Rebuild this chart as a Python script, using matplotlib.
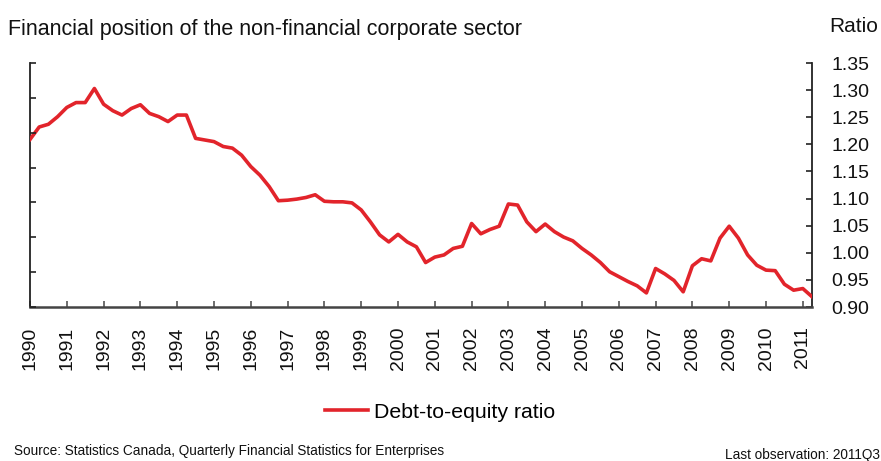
import matplotlib
matplotlib.use("Agg")
import matplotlib.pyplot as plt
import numpy as np

plt.rcParams['font.family'] = ['Liberation Sans', 'DejaVu Sans']

# Quarterly debt-to-equity ratio, 1990Q1 onward
debt_to_equity = [
    1.209, 1.232, 1.237, 1.251, 1.268, 1.277, 1.277, 1.303, 1.274, 1.262,
    1.254, 1.266, 1.273, 1.257, 1.251, 1.242, 1.254, 1.254, 1.211, 1.208,
    1.205, 1.196, 1.193, 1.180, 1.159, 1.143, 1.122, 1.096, 1.097, 1.099,
    1.102, 1.107, 1.095, 1.094, 1.094, 1.092, 1.079, 1.057, 1.033, 1.020,
    1.034, 1.020, 1.011, 0.982, 0.992, 0.996, 1.008, 1.012, 1.054, 1.035,
    1.043, 1.049, 1.090, 1.088, 1.057, 1.039, 1.053, 1.039, 1.029, 1.022,
    1.008, 0.996, 0.982, 0.965, 0.956, 0.947, 0.939, 0.926, 0.971, 0.961,
    0.949, 0.928, 0.976, 0.989, 0.985, 1.027, 1.049, 1.027, 0.996, 0.977,
    0.968, 0.967, 0.942, 0.931, 0.934, 0.919,
]
years = [str(y) for y in range(1990, 2012)]
ratio_ticks = [0.90, 0.95, 1.00, 1.05, 1.10, 1.15, 1.20, 1.25, 1.30, 1.35]

W, H = 881, 461
fig = plt.figure(figsize=(W / 100, H / 100), dpi=100)
L, R, T, B = 30, 812, 63, 307
ax = fig.add_axes([L / W, (H - B) / H, (R - L) / W, (B - T) / H])

# left axis: unlabeled ticks (twin created first so it does not move ax's ticks)
axl = ax.twinx()
axl.set_ylim(0, 7)
axl.yaxis.tick_left()
axl.set_yticks(range(8))
axl.set_yticklabels([])
axl.tick_params(axis='y', direction='in', length=4, width=1.2, color='#222222')
for s in axl.spines.values():
    s.set_visible(False)

red = '#E2242B'
x = np.arange(len(debt_to_equity))
line, = ax.plot(x, debt_to_equity, color=red, lw=2.6, solid_joinstyle='round',
                label='Debt-to-equity ratio', zorder=5)

ax.set_xlim(0, len(debt_to_equity) - 1)
ax.set_ylim(0.90, 1.35)
ax.set_xticks(np.arange(0, 4 * len(years), 4))
ax.set_xticklabels(years, rotation=90, fontsize=14, color='#111111')
ax.yaxis.tick_right()
ax.yaxis.set_label_position('right')
ax.set_yticks(ratio_ticks)
ax.set_yticklabels([f'{v:.2f}' for v in ratio_ticks], fontsize=14, color='#111111')
ax.tick_params(axis='y', which='both', left=False, right=True, labelleft=False,
               labelright=True, direction='in', length=4, width=1.2, pad=14,
               color='#222222')
ax.tick_params(axis='x', direction='in', length=4, width=1.2, pad=14, color='#555555')

ax.spines['top'].set_visible(False)
ax.spines['left'].set_color('#222222')
ax.spines['left'].set_linewidth(1.3)
ax.spines['right'].set_color('#222222')
ax.spines['right'].set_linewidth(1.3)
ax.spines['bottom'].set_color('#444444')
ax.spines['bottom'].set_linewidth(1.8)

fig.text(8 / W, 1 - 30 / H, 'Financial position of the non-financial corporate sector',
         fontsize=15.5, ha='left', va='center', color='#111111')
fig.text(829 / W, 1 - 27 / H, 'Ratio', fontsize=15, ha='left', va='center', color='#111111')

fig.legend(handles=[line], loc='center', bbox_to_anchor=(440 / W, 1 - 412 / H),
           frameon=False, fontsize=15.3, handlelength=2.0, handletextpad=0.3)

fig.text(14 / W, 1 - 451 / H,
         'Source: Statistics Canada, Quarterly Financial Statistics for Enterprises',
         fontsize=9.8, ha='left', va='center', color='#111111')
fig.text(880 / W, 1 - 455 / H, 'Last observation: 2011Q3',
         fontsize=9.8, ha='right', va='center', color='#111111')

fig.savefig('out.png', dpi=100)
